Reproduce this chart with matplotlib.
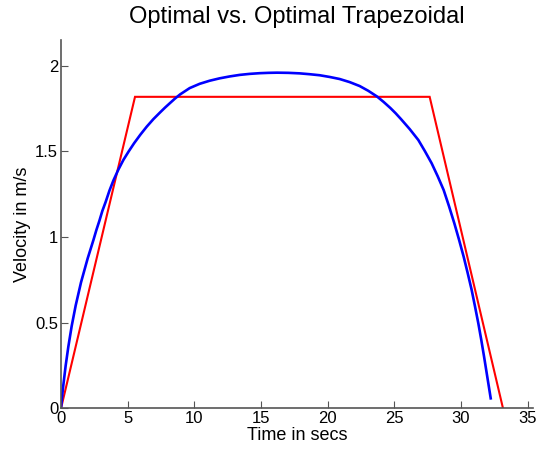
import matplotlib
matplotlib.use("Agg")
import matplotlib.pyplot as plt

# Optimal velocity profile
opt_t = [0.0, 0.07, 0.15, 0.35, 0.55, 0.8, 1.1, 1.5, 2.0, 2.43, 2.65, 2.88, 3.1,
         3.35, 3.63, 3.93, 4.3, 4.68, 5.08, 5.48, 5.95, 6.43, 6.93, 7.43, 7.8,
         8.18, 8.55, 8.93, 9.65, 10.4, 11.15, 11.9, 12.65, 13.4, 14.15, 14.9,
         15.55, 16.2, 17.05, 17.9, 18.65, 19.4, 20.15, 20.9, 21.65, 22.4, 23.05,
         23.7, 24.2, 24.7, 25.1, 25.5, 26.15, 26.8, 27.3, 27.8, 28.25, 28.7, 29.1,
         29.5, 29.85, 30.2, 30.5, 30.8, 31.05, 31.3, 31.52, 31.73, 31.98, 32.23]
opt_v = [0.0, 0.06, 0.12, 0.25, 0.36, 0.48, 0.6, 0.735, 0.875, 0.982, 1.04, 1.095,
         1.152, 1.205, 1.27, 1.33, 1.393, 1.45, 1.50, 1.547, 1.597, 1.644, 1.688,
         1.727, 1.755, 1.782, 1.808, 1.832, 1.869, 1.894, 1.912, 1.926, 1.937,
         1.946, 1.952, 1.956, 1.958, 1.959, 1.958, 1.955, 1.950, 1.944, 1.934,
         1.922, 1.904, 1.881, 1.853, 1.82, 1.788, 1.753, 1.722, 1.688, 1.63, 1.566,
         1.50, 1.43, 1.355, 1.274, 1.18, 1.08, 0.985, 0.885, 0.79, 0.691, 0.595,
         0.496, 0.40, 0.302, 0.18, 0.058]

# Optimal trapezoidal profile
trap_t = [0.0, 5.55, 27.65, 33.15]
trap_v = [0.0, 1.818, 1.818, 0.0]

title = "Optimal vs. Optimal Trapezoidal"
xlabel = "Time in secs"
ylabel = "Velocity in m/s"
xticks = [0, 5, 10, 15, 20, 25, 30, 35]
yticks = [0, 0.5, 1, 1.5, 2]
yticklabels = ["0", "0.5", "1", "1.5", "2"]

plt.rcParams['font.family'] = ['Liberation Sans', 'DejaVu Sans']

fig = plt.figure(figsize=(5.4, 4.54), dpi=100)
ax = fig.add_axes([0.113, 0.1007, 0.874, 0.8113])

ax.plot(trap_t, trap_v, color='#ff0000', lw=1.5, solid_joinstyle='miter')
ax.plot(opt_t, opt_v, color='#0000ff', lw=1.9, solid_joinstyle='round')

ax.set_xlim(0, 35.4)
ax.set_ylim(0, 2.15)
ax.set_xticks(xticks)
ax.set_yticks(yticks)
ax.set_yticklabels(yticklabels)

for s in ['top', 'right']:
    ax.spines[s].set_visible(False)
for s in ['left', 'bottom']:
    ax.spines[s].set_color('#555555')
    ax.spines[s].set_linewidth(1.2)

ax.tick_params(direction='in', length=5, width=0.8, color='#555555',
               labelsize=12, labelcolor='black', pad=2)

ax.set_title(title, fontsize=17, pad=12)
ax.set_xlabel(xlabel, fontsize=13, labelpad=1)
ax.set_ylabel(ylabel, fontsize=13, labelpad=3)

fig.savefig("out.png", dpi=100)
